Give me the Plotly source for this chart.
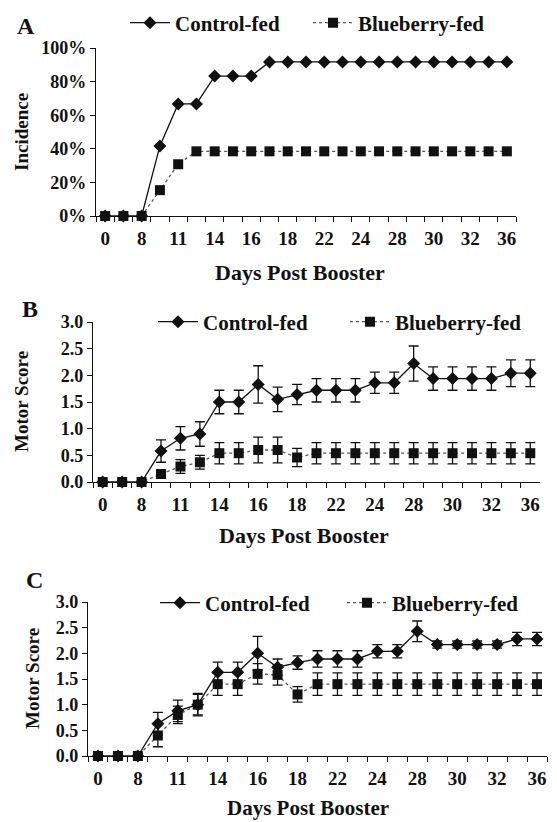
import plotly.graph_objects as go

# ---- data ----
days = ["0", "4", "8", "10", "11", "12", "14", "15", "16", "17", "18", "20",
        "22", "23", "24", "26", "28", "29", "30", "31", "32", "34", "36"]
day_labels = ["0", "", "8", "", "11", "", "14", "", "16", "", "18", "",
              "22", "", "24", "", "28", "", "30", "", "32", "", "36"]

# Panel A: incidence (%)
inc_control = [0, 0, 0, 41.7, 66.7, 66.7, 83.3, 83.3, 83.3, 91.7, 91.7, 91.7,
               91.7, 91.7, 91.7, 91.7, 91.7, 91.7, 91.7, 91.7, 91.7, 91.7, 91.7]
inc_blueberry = [0, 0, 0, 15.4, 30.8, 38.5, 38.5, 38.5, 38.5, 38.5, 38.5, 38.5,
                 38.5, 38.5, 38.5, 38.5, 38.5, 38.5, 38.5, 38.5, 38.5, 38.5, 38.5]

# Panel B: motor score (all mice)
b_control = [0, 0, 0, 0.58, 0.82, 0.90, 1.50, 1.50, 1.83, 1.55, 1.64, 1.72,
             1.72, 1.72, 1.86, 1.86, 2.22, 1.94, 1.94, 1.94, 1.94, 2.04, 2.04]
b_control_err = [0, 0, 0, 0.21, 0.22, 0.23, 0.22, 0.22, 0.35, 0.23, 0.19, 0.22,
                 0.22, 0.22, 0.20, 0.20, 0.33, 0.22, 0.22, 0.22, 0.22, 0.25, 0.25]
b_blue = [0, 0, 0, 0.15, 0.29, 0.37, 0.54, 0.54, 0.60, 0.60, 0.46, 0.54,
          0.54, 0.54, 0.54, 0.54, 0.54, 0.54, 0.54, 0.54, 0.54, 0.54, 0.54]
b_blue_err = [0, 0, 0, 0.05, 0.13, 0.13, 0.20, 0.20, 0.24, 0.24, 0.17, 0.20,
              0.20, 0.20, 0.20, 0.20, 0.20, 0.20, 0.20, 0.20, 0.20, 0.20, 0.20]

# Panel C: motor score (affected mice)
c_control = [0, 0, 0, 0.63, 0.88, 1.00, 1.63, 1.63, 2.00, 1.73, 1.82, 1.89,
             1.89, 1.89, 2.04, 2.04, 2.43, 2.17, 2.17, 2.17, 2.17, 2.28, 2.28]
c_control_err = [0, 0, 0, 0.22, 0.21, 0.20, 0.20, 0.20, 0.33, 0.16, 0.13, 0.16,
                 0.16, 0.16, 0.13, 0.13, 0.20, 0.07, 0.07, 0.07, 0.07, 0.13, 0.13]
c_blue = [0, 0, 0, 0.40, 0.80, 1.00, 1.40, 1.40, 1.60, 1.58, 1.20, 1.40,
          1.40, 1.40, 1.40, 1.40, 1.40, 1.40, 1.40, 1.40, 1.40, 1.40, 1.40]
c_blue_err = [0, 0, 0, 0.22, 0.17, 0.22, 0.22, 0.22, 0.20, 0.20, 0.15, 0.22,
              0.22, 0.22, 0.22, 0.22, 0.22, 0.22, 0.22, 0.22, 0.22, 0.22, 0.22]

W, H = 557, 822
OFF = 8  # page body margin
FONT = "Liberation Serif"
INK = "#111111"


def px_x(p):
    return (p - OFF) / W


def px_y(p):
    return 1 - (p - OFF) / H


fig = go.Figure()

panels = [
    ("", inc_control, None, inc_blueberry, None, "legend"),
    ("2", b_control, b_control_err, b_blue, b_blue_err, "legend2"),
    ("3", c_control, c_control_err, c_blue, c_blue_err, "legend3"),
]

for suf, ctl, ctl_e, blu, blu_e, leg in panels:
    xa = "x" + suf
    ya = "y" + suf
    fig.add_trace(go.Scatter(
        x=days, y=ctl, xaxis=xa, yaxis=ya, name="Control-fed", legend=leg,
        mode="lines+markers",
        line=dict(color=INK, width=1.3),
        marker=dict(symbol="diamond", size=10, color=INK),
        error_y=(dict(type="data", array=ctl_e, visible=True, color=INK,
                      thickness=1.3, width=5) if ctl_e else None),
        cliponaxis=False,
    ))
    fig.add_trace(go.Scatter(
        x=days, y=blu, xaxis=xa, yaxis=ya, name="Blueberry-fed", legend=leg,
        mode="lines+markers",
        line=dict(color="#555555", width=1.3, dash="dot"),
        marker=dict(symbol="square", size=10, color=INK),
        error_y=(dict(type="data", array=blu_e, visible=True, color=INK,
                      thickness=1.3, width=5) if blu_e else None),
        cliponaxis=False,
    ))

xtickfont = dict(family=FONT, size=19, color=INK, weight="bold")
ytickfont = dict(family=FONT, size=18, color=INK, weight="bold")


def xaxis_cfg(left, right, anchor):
    return dict(
        domain=[px_x(left), px_x(right)], anchor=anchor, type="category",
        categoryorder="array", categoryarray=days,
        tickmode="array", tickvals=days, ticktext=day_labels, tickangle=0,
        tickson="boundaries", ticks="outside", ticklen=5, tickwidth=1.2,
        tickcolor=INK, showline=True, linecolor=INK, linewidth=1.3,
        showgrid=False, zeroline=False, tickfont=xtickfont, automargin=False,
        ticklabelstandoff=5,
        range=[-0.5, len(days) - 0.5],
    )


def yaxis_cfg(top, bottom, anchor, rng, dtick, fmt, suffix=""):
    return dict(
        domain=[px_y(bottom), px_y(top)], anchor=anchor, range=rng,
        dtick=dtick, tickformat=fmt, ticksuffix=suffix,
        ticks="outside", ticklen=5, tickwidth=1.2, tickcolor=INK,
        showline=True, linecolor=INK, linewidth=1.3, automargin=False,
        showgrid=False, zeroline=False, tickfont=ytickfont,
    )


legfont = dict(family=FONT, size=21, color=INK, weight="bold")


def legend_cfg(x, y, ew):
    return dict(orientation="h", x=px_x(x), y=px_y(y), xanchor="left",
                yanchor="middle", font=legfont, bgcolor="rgba(0,0,0,0)",
                entrywidth=ew, entrywidthmode="pixels",
                itemwidth=40, tracegroupgap=0)


fig.update_layout(
    width=W, height=H,
    margin=dict(l=0, r=0, t=0, b=0, pad=0, autoexpand=False),
    paper_bgcolor="white", plot_bgcolor="white",
    font=dict(family=FONT, color=INK),
    xaxis=xaxis_cfg(96, 516, "y"),
    yaxis=yaxis_cfg(48, 216, "x", [0, 100], 20, "d", "%"),
    xaxis2=xaxis_cfg(93, 540, "y2"),
    yaxis2=yaxis_cfg(322, 482, "x2", [0, 3], 0.5, ".1f"),
    xaxis3=xaxis_cfg(88, 547, "y3"),
    yaxis3=yaxis_cfg(602, 756, "x3", [0, 3], 0.5, ".1f"),
    legend=legend_cfg(125, 23, 128),
    legend2=legend_cfg(153, 322, 137),
    legend3=legend_cfg(155, 603, 132),
    showlegend=True,
)

anns = [
    ("A", 26, 26, 24, 0),
    ("B", 30, 309, 24, 0),
    ("C", 34, 580, 24, 0),
    ("Days Post Booster", 300, 272, 22, 0),
    ("Days Post Booster", 304, 535, 22, 0),
    ("Days Post Booster", 308, 808, 21, 0),
    ("Incidence", 21, 132, 19, -90),
    ("Motor Score", 21, 402, 19, -90),
    ("Motor Score", 32, 679, 19, -90),
]
for text, x, y, size, ang in anns:
    fig.add_annotation(
        text=text, x=px_x(x), y=px_y(y), xref="paper", yref="paper",
        showarrow=False, textangle=ang, xanchor="center", yanchor="middle",
        font=dict(family=FONT, size=size, color=INK, weight="bold"),
    )

fig.write_html("out.html")
